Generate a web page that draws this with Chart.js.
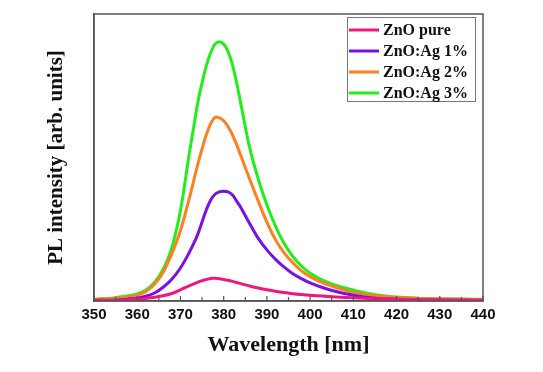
<!DOCTYPE html>
<html>
<head>
<meta charset="utf-8">
<script src="https://cdn.jsdelivr.net/npm/chart.js@4.4.1/dist/chart.umd.min.js"></script>
<style>
html,body{margin:0;padding:0;background:#fff;}
#c{display:block;}
</style>
</head>
<body>
<canvas id="c" width="543" height="372"></canvas>
<script>
// Wavelength samples (nm)
const wavelengths = [350,354,358,360,362,364,366,368,370,372,373,374,375,376,377,378,379,380,381,382,383,384,386,388,390,392,394,396,398,400,403,406,410,415,420,425,430,435,440];
// Series values (arb. units)
const znoPure = [0.1,0.2,0.4,0.6,0.9,1.3,1.8,2.6,3.9,5.3,5.9,6.5,7.1,7.5,7.85,7.9,7.75,7.5,7.2,6.85,6.45,6.05,5.2,4.5,3.9,3.4,2.95,2.55,2.25,2.0,1.7,1.4,1.1,0.8,0.6,0.45,0.35,0.3,0.25];
const znoAg1 = [0.2,0.3,0.7,1.0,1.7,2.8,4.8,7.6,11.5,16.8,19.8,23.2,27.5,31.8,35.2,37.2,38,38.2,38,37,34.8,32.5,27,21.8,17.8,14.5,11.8,9.5,7.8,6.3,4.6,3.3,2.0,1.0,0.6,0.4,0.3,0.3,0.2];
const znoAg2 = [0.5,0.8,1.4,2.0,3.3,5.8,10,16.5,24.5,35.5,41.5,47.5,53,58,61.8,64,63.8,62.8,60.8,58,54.5,50.5,42.5,34.8,27.5,21.3,16.8,13.3,10.5,8.5,6.3,4.7,3.0,1.8,1.2,0.9,0.7,0.6,0.5];
const znoAg3 = [0.7,1.0,1.8,2.5,3.8,6.5,11,18.5,31.5,51,60,69,76,82,86.5,89.5,90.3,89.5,87,82.5,76,68.5,53.5,42.5,33.5,26,20,15.5,12.2,9.7,7.2,5.4,3.8,2.2,1.4,1.0,0.8,0.7,0.6];
const seriesLabels = ['ZnO pure','ZnO:Ag 1%','ZnO:Ag 2%','ZnO:Ag 3%'];
const seriesColors = ['#f0187f','#7a10e6','#ff7f1e','#22ee1e'];
const xTicks = [350,360,370,380,390,400,410,420,430,440];

const allSeries = [znoPure, znoAg1, znoAg2, znoAg3];
const datasets = allSeries.map((vals, i) => ({
  label: seriesLabels[i],
  data: wavelengths.map((w, j) => ({x: w, y: vals[j]})),
  borderColor: seriesColors[i],
  backgroundColor: seriesColors[i],
  borderWidth: 3,
  pointRadius: 0,
  tension: 0.35,
  fill: false
}));

const framePlugin = {
  id: 'frame',
  afterDraw(chart) {
    const {ctx, chartArea: a, scales: {x}} = chart;
    ctx.save();
    // ticks (inward)
    ctx.strokeStyle = '#555';
    ctx.lineWidth = 1.2;
    for (let v = 350; v <= 440; v += 5) {
      const px = x.getPixelForValue(v);
      const len = (v % 10 === 0) ? 5 : 4;
      ctx.beginPath();
      ctx.moveTo(px, a.bottom);
      ctx.lineTo(px, a.bottom - len);
      ctx.stroke();
    }
    // frame
    ctx.strokeStyle = '#555';
    ctx.lineWidth = 1.5;
    ctx.strokeRect(a.left, a.top, a.right - a.left, a.bottom - a.top);
    // legend
    const bx = a.right - 136, by = a.top + 3, bw = 128, bh = 84;
    ctx.fillStyle = '#fff';
    ctx.fillRect(bx, by, bw, bh);
    ctx.strokeStyle = '#777';
    ctx.lineWidth = 1;
    ctx.strokeRect(bx + 0.5, by + 0.5, bw, bh);
    ctx.font = 'bold 16px "Liberation Serif", "Times New Roman", serif';
    ctx.textBaseline = 'middle';
    ctx.textAlign = 'left';
    chart.data.datasets.forEach((ds, i) => {
      const ly = by + 13 + i * 21;
      ctx.strokeStyle = ds.borderColor;
      ctx.lineWidth = 3;
      ctx.beginPath();
      ctx.moveTo(bx + 2, ly);
      ctx.lineTo(bx + 32, ly);
      ctx.stroke();
      ctx.fillStyle = '#111';
      ctx.fillText(ds.label, bx + 36, ly + 1);
    });
    ctx.restore();
  }
};

new Chart(document.getElementById('c'), {
  type: 'line',
  data: {datasets},
  options: {
    responsive: false,
    devicePixelRatio: 1,
    animation: false,
    layout: {padding: {left: 44, right: 60, top: 14, bottom: 8}},
    plugins: {legend: {display: false}, tooltip: {enabled: false}},
    scales: {
      x: {
        type: 'linear',
        min: 350, max: 440,
        afterBuildTicks: s => { s.ticks = xTicks.map(v => ({value: v})); },
        afterFit: s => { s.height = 63; },
        grid: {display: false, drawTicks: false},
        border: {display: true, color: '#555', width: 1.5},
        ticks: {
          padding: 5,
          color: '#111',
          font: {family: '"Liberation Sans", Arial, sans-serif', weight: 'bold', size: 15}
        },
        title: {
          display: true,
          text: 'Wavelength [nm]',
          color: '#111',
          padding: {top: 0, bottom: 5},
          font: {family: '"Liberation Serif", "Times New Roman", serif', weight: 'bold', size: 22}
        }
      },
      y: {
        min: 0, max: 100,
        afterFit: s => { s.width = 50; },
        grid: {display: false, drawTicks: false},
        border: {display: true, color: '#555', width: 1.5},
        ticks: {display: false},
        title: {
          display: true,
          text: 'PL intensity [arb. units]',
          color: '#111',
          padding: 0,
          font: {family: '"Liberation Serif", "Times New Roman", serif', weight: 'bold', size: 21}
        }
      }
    }
  },
  plugins: [framePlugin]
});
</script>
</body>
</html>
